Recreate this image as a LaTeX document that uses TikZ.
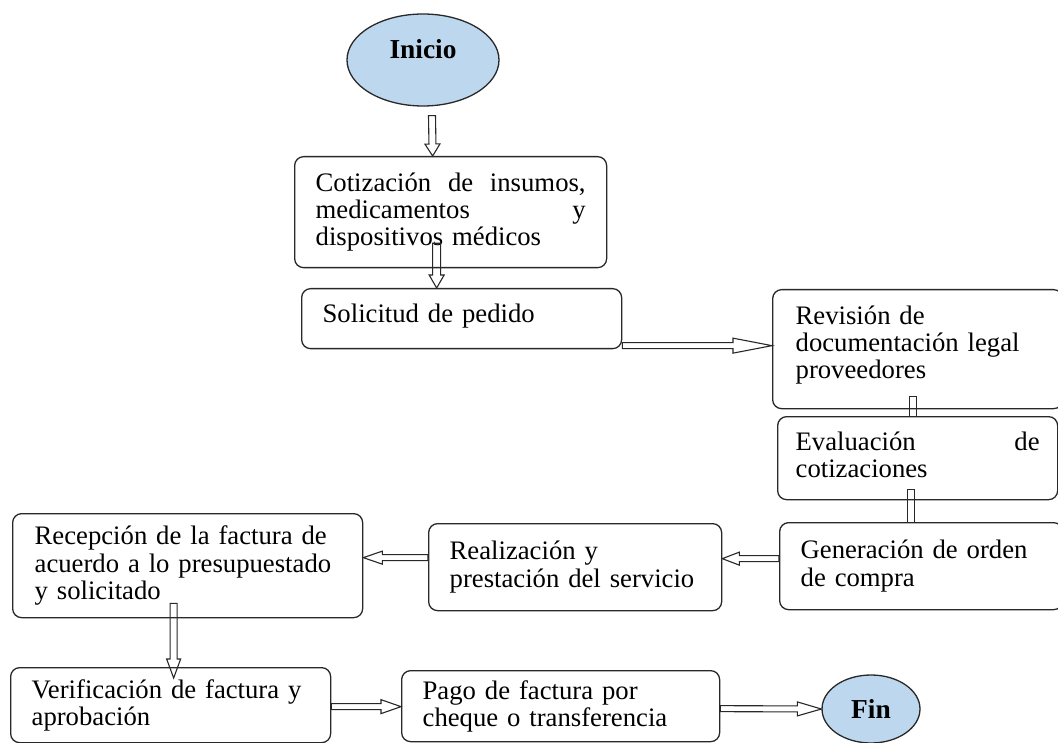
\documentclass[tikz,border=0pt]{standalone}
\usepackage{fontspec}
\setmainfont{Liberation Serif}
\usetikzlibrary{calc,shapes.geometric}
\hyphenpenalty=10000
\exhyphenpenalty=10000

\definecolor{termfill}{RGB}{189,215,238}
\definecolor{edge}{RGB}{40,40,40}

% text block lifted a little inside its box, keeping its size
\newcommand{\liftedtext}[2]{\raisebox{#1}[\height][\depth]{\parbox{\linewidth}{#2}}}

\tikzset{
  box/.style={draw=edge, line width=1.3pt, rounded corners=9pt, align=left,
    anchor=north west, inner xsep=21pt, inner ysep=0pt,
    font=\fontsize{26.7}{27.2}\selectfont},
  term/.style={ellipse, draw=edge, line width=1.3pt, fill=termfill, inner sep=0pt,
    font=\bfseries\fontsize{27.4}{28}\selectfont},
  % parameters of the hollow block arrows
  blk len/.store in=\blklen, blk len=12pt,
  blk hw/.store in=\blkhw, blk hw=7.5pt,
  blk bw/.store in=\blkbw, blk bw=3.5pt,
  % hollow arrow: double shaft closed at the tail, open triangular head
  blockarrow/.style={draw=edge, line width=1.1pt, line join=miter, to path={
    let \p1=(\tikztostart), \p2=(\tikztotarget),
        \n1={atan2(\y2-\y1,\x2-\x1)}, \n2={veclen(\x2-\x1,\y2-\y1)} in
    ($(\p1)+(\n1+90:\blkbw)$)
    -- ($(\p1)+(\n1:\n2-\blklen)+(\n1+90:\blkbw)$)
    -- ($(\p1)+(\n1:\n2-\blklen)+(\n1+90:\blkhw)$)
    -- (\p2)
    -- ($(\p1)+(\n1:\n2-\blklen)+(\n1-90:\blkhw)$)
    -- ($(\p1)+(\n1:\n2-\blklen)+(\n1-90:\blkbw)$)
    -- ($(\p1)+(\n1-90:\blkbw)$) -- cycle}},
  % shaft whose head sits under the next box
  blockstem/.style={draw=edge, line width=1.1pt, to path={
    let \p1=(\tikztostart), \p2=(\tikztotarget),
        \n1={atan2(\y2-\y1,\x2-\x1)} in
    ($(\p2)+(\n1+90:\blkbw)$) -- ($(\p1)+(\n1+90:\blkbw)$)
    -- ($(\p1)+(\n1-90:\blkbw)$) -- ($(\p2)+(\n1-90:\blkbw)$)}}
}

\begin{document}
\begin{tikzpicture}[x=1pt,y=-1pt]
\useasboundingbox (0,0) rectangle (1058,743);
\clip (0,0) rectangle (1058,743);
\fill[white] (0,0) rectangle (1058,743);

% start and end terminals
\node[term, minimum width=152pt, minimum height=92pt] (ini) at (423,60)
  {\raisebox{11pt}[\height][\depth]{Inicio}};
\node[term, minimum width=98pt, minimum height=68pt] (fin) at (871,709) {Fin};

% process steps
\node[box, minimum width=312pt, minimum height=111pt, text width=270pt] (cot) at (294,156)
  {Cotización\hfill de\hfill insumos,\\ medicamentos\hfill y\\ dispositivos médicos};
\node[box, minimum width=320pt, minimum height=60pt, text width=278pt] (sol) at (301,288)
  {\liftedtext{3pt}{Solicitud de pedido}};
\node[box, minimum width=290pt, minimum height=119pt, text width=244pt, inner xsep=23pt] (rev) at (772,289)
  {\liftedtext{4pt}{Revisión de\\ documentación legal\\ proveedores}};
\node[box, minimum width=280pt, minimum height=83pt, text width=244pt, inner xsep=18pt] (eva) at (777,416)
  {\liftedtext{3pt}{Evaluación\hfill de\\ cotizaciones}};
\node[box, minimum width=283pt, minimum height=87pt, text width=241pt] (gen) at (779,522)
  {Generación de orden\\ de compra};
\node[box, minimum width=293pt, minimum height=87pt, text width=251pt] (rea) at (428,523)
  {Realización y\\ prestación del servicio};
\node[box, minimum width=350pt, minimum height=104pt, text width=306pt, inner xsep=22pt] (rec) at (12,513)
  {Recepción de la factura de\\ acuerdo a lo presupuestado\\ y solicitado};
\node[box, minimum width=320pt, minimum height=75pt, text width=278pt] (ver) at (10,667)
  {Verificación de factura y\\ aprobación};
\node[box, minimum width=318pt, minimum height=71pt, text width=276pt] (pag) at (401,670)
  {Pago de factura por\\ cheque o transferencia};

% connectors
\draw[blockarrow] ([xshift=9pt,yshift=-9pt]ini.south) to ([xshift=-18pt]cot.north);
\draw[blockarrow, blk len=13pt, blk bw=4pt] ([xshift=-14pt,yshift=25pt]cot.south) to ([xshift=-25pt]sol.north);
\draw[blockarrow, blk len=39pt, blk bw=3pt] ([yshift=-27pt]sol.east) to ([yshift=3.5pt]rev.west);
\draw[blockstem] ([xshift=-5pt,yshift=13pt]rev.south) to ([xshift=-5pt]eva.north);
\draw[blockstem] ([xshift=-7pt,yshift=11pt]eva.south) to ([xshift=-10.5pt]gen.north);
\draw[blockarrow, blk len=17pt, blk hw=6.5pt, blk bw=3pt] ([yshift=7.5pt]gen.west) to ([yshift=8.5pt]rea.east);
\draw[blockarrow, blk len=19pt, blk hw=6.5pt, blk bw=3pt] ([yshift=9.5pt]rea.west) to ([yshift=8pt]rec.east);
\draw[blockarrow, blk len=19pt, blk hw=7pt] ([xshift=-14pt,yshift=15pt]rec.south) to ([xshift=3pt,yshift=-11pt]ver.north);
\draw[blockarrow, blk len=20pt, blk hw=7pt, blk bw=3pt] ([yshift=-1.5pt]ver.east) to ([yshift=-0.5pt]pag.west);
\draw[blockarrow, blk len=24pt, blk hw=7pt, blk bw=3pt] ([yshift=-2.5pt]pag.east) to (fin.west);
\end{tikzpicture}
\end{document}
